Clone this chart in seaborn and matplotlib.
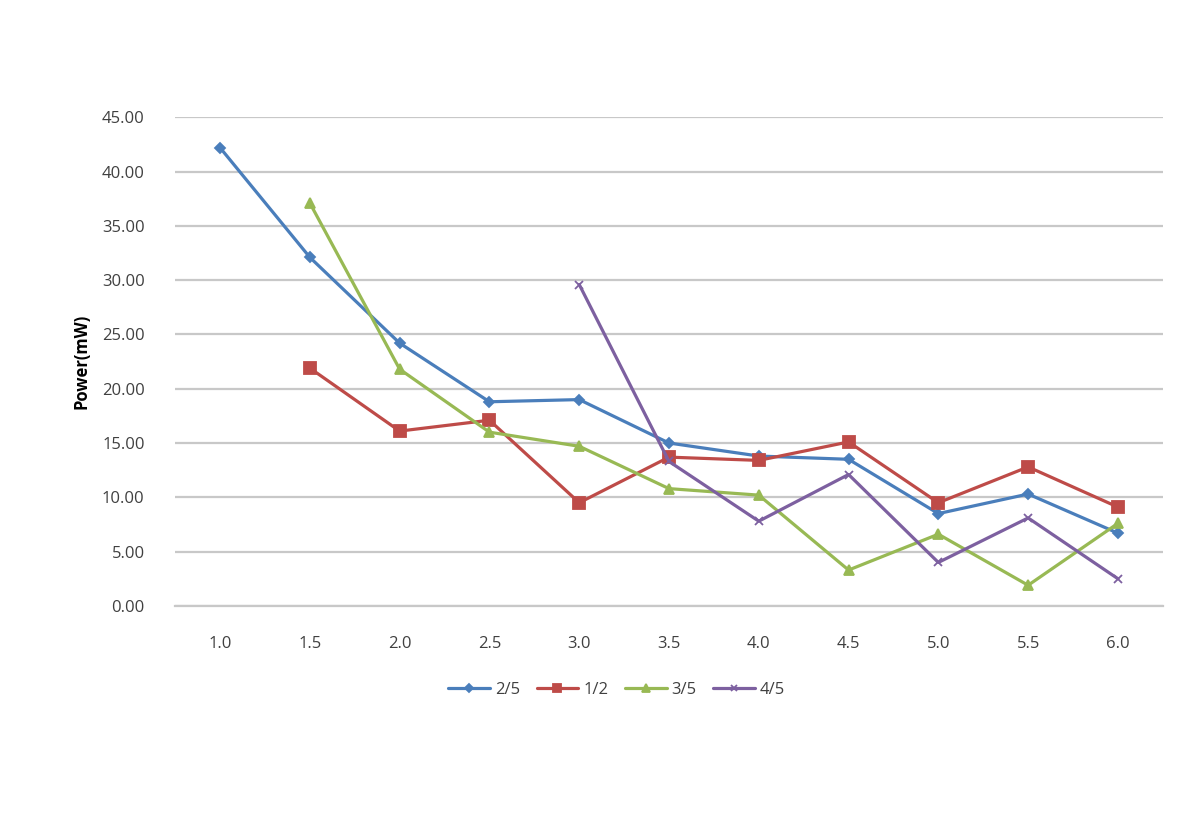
import numpy as np
import pandas as pd
import matplotlib
matplotlib.use("Agg")
import matplotlib.pyplot as plt
import seaborn as sns

x_vals = [1.0, 1.5, 2.0, 2.5, 3.0, 3.5, 4.0, 4.5, 5.0, 5.5, 6.0]
x_labels = ["1.0", "1.5", "2.0", "2.5", "3.0", "3.5", "4.0", "4.5", "5.0", "5.5", "6.0"]
s_2_5 = [42.2, 32.1, 24.2, 18.8, 19.0, 15.0, 13.8, 13.5, 8.5, 10.3, 6.7]
s_1_2 = [np.nan, 21.9, 16.1, 17.1, 9.5, 13.7, 13.4, 15.1, 9.5, 12.8, 9.1]
s_3_5 = [np.nan, 37.1, 21.8, 16.0, 14.7, 10.8, 10.2, 3.3, 6.6, 1.9, 7.6]
s_4_5 = [np.nan, np.nan, np.nan, np.nan, 29.6, 13.3, 7.8, 12.1, 4.0, 8.1, 2.5]
series_names = ["2/5", "1/2", "3/5", "4/5"]
y_ticks = [0, 5, 10, 15, 20, 25, 30, 35, 40, 45]

colors = ["#4A7EBB", "#BE4B48", "#98B954", "#7D60A0"]
markers = ["D", "s", "^", "x"]
msizes = [5, 8, 6.5, 6]

rows = []
for name, vals in zip(series_names, [s_2_5, s_1_2, s_3_5, s_4_5]):
    for xv, v in zip(x_vals, vals):
        if not np.isnan(v):
            rows.append({"x": xv, "Power": v, "series": name})
df = pd.DataFrame(rows)

sns.set_theme(style="white")
plt.rcParams["font.family"] = ["Open Sans", "DejaVu Sans"]

fig = plt.figure(figsize=(12, 8.38), dpi=100)
ax = fig.add_axes([0.146, 0.277, 0.823, 0.583])

for i, name in enumerate(series_names):
    sub = df[df["series"] == name]
    sns.lineplot(data=sub, x="x", y="Power", ax=ax, color=colors[i], marker=markers[i],
                 markersize=msizes[i], markeredgecolor=colors[i], markeredgewidth=1.3,
                 linewidth=2.3, label=name, zorder=3 + i)

ax.set_xlim(0.75, 6.25)
ax.set_ylim(0, 45)
ax.set_xticks(x_vals)
ax.set_xticklabels(x_labels)
ax.set_yticks(y_ticks)
ax.set_yticklabels([f"{v:.2f}" for v in y_ticks])
ax.yaxis.grid(True, color="#C8C8C8", linewidth=1.6)
ax.xaxis.grid(False)
for sp in ["top", "right", "left"]:
    ax.spines[sp].set_visible(False)
ax.spines["bottom"].set_color("#C8C8C8")
ax.spines["bottom"].set_linewidth(1.6)
ax.tick_params(axis="both", length=0, labelsize=12, colors="#404040")
ax.tick_params(axis="y", pad=22)
ax.tick_params(axis="x", pad=22)
ax.set_xlabel("")
ax.set_ylabel("Power(mW)", fontsize=12, fontweight="bold", color="black", labelpad=8)

ax.legend(loc="upper center", bbox_to_anchor=(0.447, -0.125), ncol=4, frameon=False,
          fontsize=12, handlelength=2.5, handletextpad=0.3, columnspacing=1.0,
          labelcolor="#404040", markerscale=0.8)

fig.savefig("out.png", dpi=100, facecolor="white")
